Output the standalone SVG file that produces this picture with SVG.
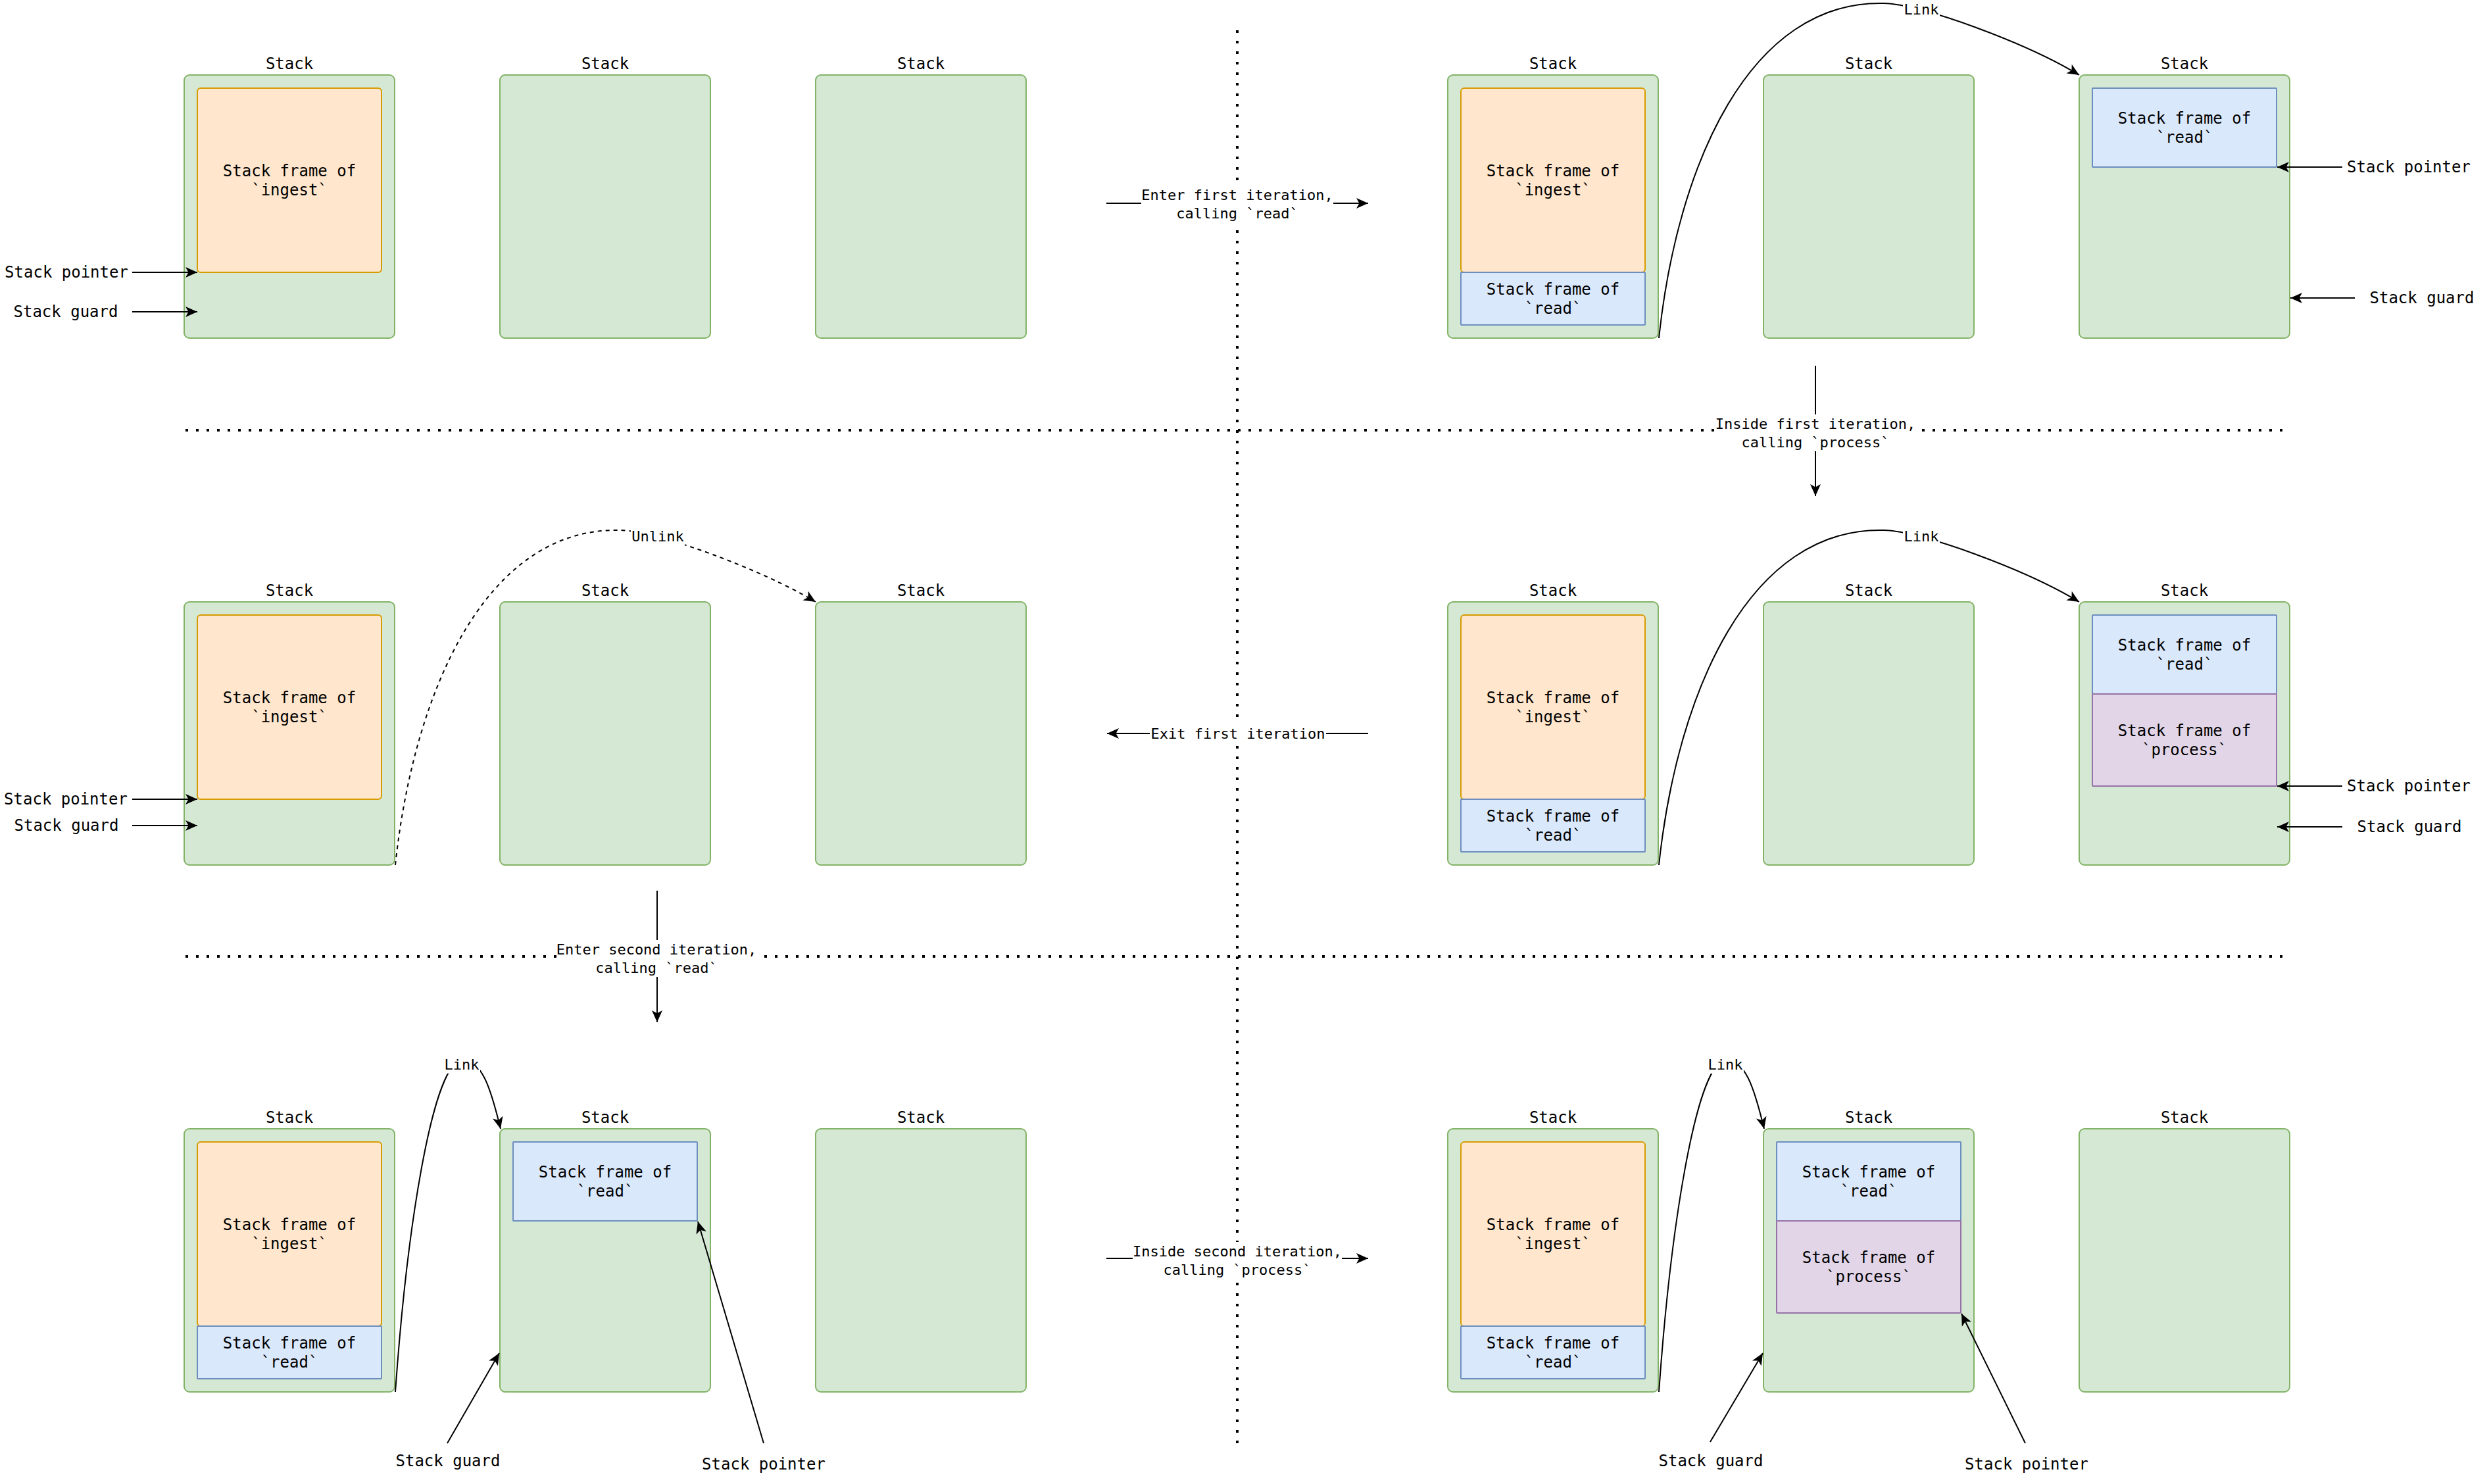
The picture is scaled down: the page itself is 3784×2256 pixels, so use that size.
<svg xmlns="http://www.w3.org/2000/svg" width="3784" height="2256" viewBox="0 0 3784 2256">
<style>
text{font-family:"DejaVu Sans Mono","Liberation Mono",monospace;fill:#000;text-anchor:middle;dominant-baseline:central}
.v{font-size:24px}
.e{font-size:22px}
.stack{fill:#d5e8d4;stroke:#82b366;stroke-width:2}
.ing{fill:#ffe6cc;stroke:#d79b00;stroke-width:2}
.rd{fill:#dae8fc;stroke:#6c8ebf;stroke-width:2}
.pr{fill:#e1d5e7;stroke:#9673a6;stroke-width:2}
.dot{fill:none;stroke:#000;stroke-width:4;stroke-dasharray:4 12}
.ln{fill:none;stroke:#000;stroke-width:2;marker-end:url(#a)}
.dash{stroke-dasharray:6 6}
.bg{fill:#fff}
</style>
<defs>
<marker id="a" markerUnits="userSpaceOnUse" markerWidth="20" markerHeight="18" viewBox="0 0 20 18" refX="18" refY="9" orient="auto">
<path d="M0,1 L18,9 L0,17 L4.5,9 Z" fill="#000"/>
</marker>
</defs>
<rect width="3784" height="2256" fill="#fff"/>

<g id="dividers">
<path class="dot" d="M1881,46 L1881,2196"/>
<path class="dot" d="M282,654 L3473,654"/>
<path class="dot" d="M282,1454 L3473,1454"/>
</g>

<!-- Row 1 -->
<g id="r1-stack1">
<text class="v" x="440" y="97">Stack</text>
<rect class="stack" x="280" y="114" width="320" height="400" rx="8"/>
<rect class="ing" x="300" y="134" width="280" height="280" rx="5"/>
<text class="v" x="440" y="260">Stack frame of</text>
<text class="v" x="440" y="289">`ingest`</text>
</g>
<g id="r1-stack2">
<text class="v" x="920" y="97">Stack</text>
<rect class="stack" x="760" y="114" width="320" height="400" rx="8"/>
</g>
<g id="r1-stack3">
<text class="v" x="1400" y="97">Stack</text>
<rect class="stack" x="1240" y="114" width="320" height="400" rx="8"/>
</g>
<g id="r1-stack4">
<text class="v" x="2361" y="97">Stack</text>
<rect class="stack" x="2201" y="114" width="320" height="400" rx="8"/>
<rect class="ing" x="2221" y="134" width="280" height="280" rx="5"/>
<text class="v" x="2361" y="260">Stack frame of</text>
<text class="v" x="2361" y="289">`ingest`</text>
<rect class="rd" x="2221" y="414" width="280" height="80" rx="1"/>
<text class="v" x="2361" y="440">Stack frame of</text>
<text class="v" x="2361" y="469">`read`</text>
</g>
<g id="r1-stack5">
<text class="v" x="2841" y="97">Stack</text>
<rect class="stack" x="2681" y="114" width="320" height="400" rx="8"/>
</g>
<g id="r1-stack6">
<text class="v" x="3321" y="97">Stack</text>
<rect class="stack" x="3161" y="114" width="320" height="400" rx="8"/>
<rect class="rd" x="3181" y="134" width="280" height="120" rx="1"/>
<text class="v" x="3321" y="180">Stack frame of</text>
<text class="v" x="3321" y="209">`read`</text>
</g>

<!-- Row 2 -->
<g id="r2-stack1">
<text class="v" x="440" y="898">Stack</text>
<rect class="stack" x="280" y="915" width="320" height="400" rx="8"/>
<rect class="ing" x="300" y="935" width="280" height="280" rx="5"/>
<text class="v" x="440" y="1061">Stack frame of</text>
<text class="v" x="440" y="1090">`ingest`</text>
</g>
<g id="r2-stack2">
<text class="v" x="920" y="898">Stack</text>
<rect class="stack" x="760" y="915" width="320" height="400" rx="8"/>
</g>
<g id="r2-stack3">
<text class="v" x="1400" y="898">Stack</text>
<rect class="stack" x="1240" y="915" width="320" height="400" rx="8"/>
</g>
<g id="r2-stack4">
<text class="v" x="2361" y="898">Stack</text>
<rect class="stack" x="2201" y="915" width="320" height="400" rx="8"/>
<rect class="ing" x="2221" y="935" width="280" height="280" rx="5"/>
<text class="v" x="2361" y="1061">Stack frame of</text>
<text class="v" x="2361" y="1090">`ingest`</text>
<rect class="rd" x="2221" y="1215" width="280" height="80" rx="1"/>
<text class="v" x="2361" y="1241">Stack frame of</text>
<text class="v" x="2361" y="1270">`read`</text>
</g>
<g id="r2-stack5">
<text class="v" x="2841" y="898">Stack</text>
<rect class="stack" x="2681" y="915" width="320" height="400" rx="8"/>
</g>
<g id="r2-stack6">
<text class="v" x="3321" y="898">Stack</text>
<rect class="stack" x="3161" y="915" width="320" height="400" rx="8"/>
<rect class="rd" x="3181" y="935" width="280" height="120" rx="1"/>
<text class="v" x="3321" y="981">Stack frame of</text>
<text class="v" x="3321" y="1010">`read`</text>
<rect class="pr" x="3181" y="1055" width="280" height="140" rx="1"/>
<text class="v" x="3321" y="1111">Stack frame of</text>
<text class="v" x="3321" y="1140">`process`</text>
</g>

<!-- Row 3 -->
<g id="r3-stack1">
<text class="v" x="440" y="1699">Stack</text>
<rect class="stack" x="280" y="1716" width="320" height="400" rx="8"/>
<rect class="ing" x="300" y="1736" width="280" height="280" rx="5"/>
<text class="v" x="440" y="1862">Stack frame of</text>
<text class="v" x="440" y="1891">`ingest`</text>
<rect class="rd" x="300" y="2016" width="280" height="80" rx="1"/>
<text class="v" x="440" y="2042">Stack frame of</text>
<text class="v" x="440" y="2071">`read`</text>
</g>
<g id="r3-stack2">
<text class="v" x="920" y="1699">Stack</text>
<rect class="stack" x="760" y="1716" width="320" height="400" rx="8"/>
<rect class="rd" x="780" y="1736" width="280" height="120" rx="1"/>
<text class="v" x="920" y="1782">Stack frame of</text>
<text class="v" x="920" y="1811">`read`</text>
</g>
<g id="r3-stack3">
<text class="v" x="1400" y="1699">Stack</text>
<rect class="stack" x="1240" y="1716" width="320" height="400" rx="8"/>
</g>
<g id="r3-stack4">
<text class="v" x="2361" y="1699">Stack</text>
<rect class="stack" x="2201" y="1716" width="320" height="400" rx="8"/>
<rect class="ing" x="2221" y="1736" width="280" height="280" rx="5"/>
<text class="v" x="2361" y="1862">Stack frame of</text>
<text class="v" x="2361" y="1891">`ingest`</text>
<rect class="rd" x="2221" y="2016" width="280" height="80" rx="1"/>
<text class="v" x="2361" y="2042">Stack frame of</text>
<text class="v" x="2361" y="2071">`read`</text>
</g>
<g id="r3-stack5">
<text class="v" x="2841" y="1699">Stack</text>
<rect class="stack" x="2681" y="1716" width="320" height="400" rx="8"/>
<rect class="rd" x="2701" y="1736" width="280" height="120" rx="1"/>
<text class="v" x="2841" y="1782">Stack frame of</text>
<text class="v" x="2841" y="1811">`read`</text>
<rect class="pr" x="2701" y="1856" width="280" height="140" rx="1"/>
<text class="v" x="2841" y="1912">Stack frame of</text>
<text class="v" x="2841" y="1941">`process`</text>
</g>
<g id="r3-stack6">
<text class="v" x="3321" y="1699">Stack</text>
<rect class="stack" x="3161" y="1716" width="320" height="400" rx="8"/>
</g>

<!-- pointer / guard labels -->
<g id="pointer-labels">
<text class="v" x="101" y="414">Stack pointer</text>
<text class="v" x="100" y="474">Stack guard</text>
<text class="v" x="3662" y="254">Stack pointer</text>
<text class="v" x="3682" y="453">Stack guard</text>
<text class="v" x="100" y="1215">Stack pointer</text>
<text class="v" x="101" y="1255">Stack guard</text>
<text class="v" x="3662" y="1195">Stack pointer</text>
<text class="v" x="3663" y="1257">Stack guard</text>
<text class="v" x="681" y="2221">Stack guard</text>
<text class="v" x="1161" y="2226">Stack pointer</text>
<text class="v" x="2601" y="2221">Stack guard</text>
<text class="v" x="3081" y="2226">Stack pointer</text>
</g>

<g id="connectors">
<!-- pointer / guard arrows -->
<path class="ln" d="M201,414 L300,414"/>
<path class="ln" d="M201,474 L300,474"/>
<path class="ln" d="M3561,254 L3462,254"/>
<path class="ln" d="M3580,453 L3482,453"/>
<path class="ln" d="M201,1215 L300,1215"/>
<path class="ln" d="M201,1255 L300,1255"/>
<path class="ln" d="M3561,1195 L3462,1195"/>
<path class="ln" d="M3561,1257 L3462,1257"/>
<path class="ln" d="M680,2194 L759,2057"/>
<path class="ln" d="M1161,2194 L1061,1857"/>
<path class="ln" d="M2600,2192 L2680,2057"/>
<path class="ln" d="M3079,2194 L2982,1997"/>

<!-- links -->
<path class="ln" d="M2522,514 C2550,250 2660,0 2864,5 C2920,6 3080,65 3161,114"/>
<path class="ln" d="M2522,1315 C2550,1051 2660,801 2864,806 C2920,807 3080,866 3161,915"/>
<path class="ln dash" d="M601,1315 C629,1051 739,801 943,806 C999,807 1159,866 1240,915"/>
<path class="ln" d="M601,2116 C620,1850 660,1612 703,1612 C732,1612 745,1650 761,1716"/>
<path class="ln" d="M2522,2116 C2541,1850 2581,1612 2624,1612 C2653,1612 2666,1650 2682,1716"/>

<!-- transitions -->
<path class="ln" d="M1682,309 L2080,309"/>
<path class="ln" d="M2760,556 L2760,754"/>
<path class="ln" d="M2080,1115 L1683,1115"/>
<path class="ln" d="M999,1354 L999,1554"/>
<path class="ln" d="M1682,1913 L2080,1913"/>

<!-- edge labels -->
<rect class="bg" x="2893" y="0" width="56" height="28"/>
<text class="e" x="2921" y="14">Link</text>
<rect class="bg" x="2893" y="801" width="56" height="28"/>
<text class="e" x="2921" y="815">Link</text>
<rect class="bg" x="959" y="801" width="82" height="28"/>
<text class="e" x="1000" y="815">Unlink</text>
<rect class="bg" x="674" y="1604" width="56" height="28"/>
<text class="e" x="702" y="1618">Link</text>
<rect class="bg" x="2595" y="1604" width="56" height="28"/>
<text class="e" x="2623" y="1618">Link</text>

<rect class="bg" x="1735" y="282" width="292" height="56"/>
<text class="e" x="1881" y="296">Enter first iteration,</text>
<text class="e" x="1881" y="324">calling `read`</text>
<rect class="bg" x="2606" y="630" width="308" height="56"/>
<text class="e" x="2760" y="644">Inside first iteration,</text>
<text class="e" x="2760" y="672">calling `process`</text>
<rect class="bg" x="1748" y="1101" width="268" height="28"/>
<text class="e" x="1882" y="1115">Exit first iteration</text>
<rect class="bg" x="846" y="1429" width="304" height="56"/>
<text class="e" x="998" y="1443">Enter second iteration,</text>
<text class="e" x="998" y="1471">calling `read`</text>
<rect class="bg" x="1722" y="1888" width="318" height="56"/>
<text class="e" x="1881" y="1902">Inside second iteration,</text>
<text class="e" x="1881" y="1930">calling `process`</text>
</g>
</svg>
